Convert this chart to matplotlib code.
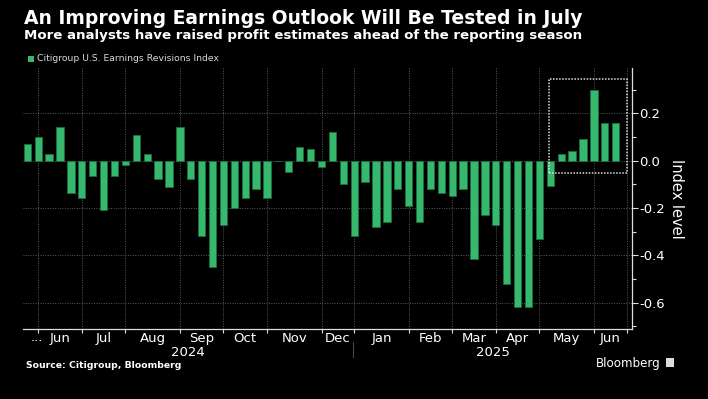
import numpy as np
import matplotlib
matplotlib.use("Agg")
import matplotlib.pyplot as plt
from matplotlib.patches import Rectangle
from matplotlib.transforms import blended_transform_factory

# weekly Citigroup US earnings revisions index, late May 2024 -> Jun 2025
values = [
    0.070, 0.101, 0.030, 0.142, -0.138, -0.159, -0.066, -0.210, -0.066, -0.016,
    0.111, 0.030, -0.078, -0.109, 0.142, -0.078, -0.317, -0.447, -0.271, -0.199,
    -0.159, -0.118, -0.159, -0.003, -0.048, 0.059, 0.051, -0.028, 0.121, -0.099,
    -0.317, -0.089, -0.278, -0.257, -0.118, -0.189, -0.257, -0.118, -0.138, -0.149,
    -0.118, -0.417, -0.228, -0.271, -0.519, -0.617, -0.617, -0.330, -0.107, 0.030,
    0.042, 0.092, 0.300, 0.161, 0.161,
]
# first week of each month (bar index) and month names
month_starts = [1, 5, 9, 14, 18, 22, 27, 30, 35, 39, 43, 47, 52, 55]
month_names = ["Jun", "Jul", "Aug", "Sep", "Oct", "Nov", "Dec",
               "Jan", "Feb", "Mar", "Apr", "May", "Jun"]
years = ["2024", "2025"]
year_break = 29.9

BG = "black"
GREEN = "#37b86f"
W = 708
H = 399

fig = plt.figure(figsize=(7.08, 3.99), dpi=100, facecolor=BG)
ax = fig.add_axes([23 / W, (H - 329.3) / H, (632 - 23) / W, (329.3 - 68) / H], facecolor=BG)

x = np.arange(len(values))
ax.bar(x, values, width=0.67, color=GREEN, edgecolor="#1d6e3f", linewidth=0.6, zorder=3)

ax.set_xlim(-0.4, 55.5)
ax.set_ylim(-0.712, 0.392)

# grid
for m in month_starts:
    ax.axvline(m, color="#5a5a5a", lw=0.7, ls=(0, (1, 1.5)), zorder=1)
for yv in [-0.6, -0.4, -0.2, 0.0, 0.2]:
    ax.axhline(yv, color="#5a5a5a", lw=0.7, ls=(0, (1, 1.5)), zorder=1)

# spines
for s in ["left", "top"]:
    ax.spines[s].set_visible(False)
ax.spines["right"].set_color("#dddddd")
ax.spines["bottom"].set_color("#dddddd")
ax.spines["right"].set_linewidth(0.9)
ax.spines["bottom"].set_linewidth(0.9)

# y axis on the right
ax.yaxis.tick_right()
ax.yaxis.set_label_position("right")
ax.set_yticks([-0.6, -0.4, -0.2, 0.0, 0.2])
ax.set_yticklabels(["-0.6", "-0.4", "-0.2", "0.0", "0.2"])
ax.set_yticks([-0.7, -0.5, -0.3, -0.1, 0.1, 0.3], minor=True)
ax.tick_params(axis="y", which="major", colors="#dddddd", labelcolor="white",
               labelsize=9.5, length=4, width=0.8, pad=1)
ax.tick_params(axis="y", which="minor", colors="#dddddd", length=3, width=0.8)
ax.set_ylabel("Index level", color="white", fontsize=10.5, rotation=270, labelpad=14)

# x axis: ticks at month starts, labels centred between them
ax.set_xticks(month_starts)
ax.set_xticklabels([])
mids = [(month_starts[i] + month_starts[i + 1]) / 2 for i in range(len(month_names))]
ax.set_xticks(mids, minor=True)
ax.set_xticklabels(month_names, minor=True)
ax.tick_params(axis="x", which="major", colors="#dddddd", length=3, width=0.8)
ax.tick_params(axis="x", which="minor", length=0, labelcolor="white", labelsize=9.5, pad=2)

tr = blended_transform_factory(ax.transData, ax.transAxes)
ax.text(0.85, -0.046, "...", transform=tr, color="white", fontsize=9.5, ha="center", va="baseline")
ax.text((-0.4 + year_break) / 2, -0.062, years[0], transform=tr, color="white",
        fontsize=9.5, ha="center", va="top")
ax.text((year_break + 55.5) / 2, -0.062, years[1], transform=tr, color="white",
        fontsize=9.5, ha="center", va="top")
ax.plot([year_break, year_break], [-0.05, -0.105], transform=tr, color="#444444",
        lw=0.8, clip_on=False)

# highlight box around the recent run-up
ax.add_patch(Rectangle((47.9, -0.05), 7.17, 0.395, fill=False, edgecolor="#e0e0e0",
                       lw=1.1, ls=(0, (1, 1)), zorder=4))

# titles
fig.text(24 / W, 1 - 18 / H, "An Improving Earnings Outlook Will Be Tested in July",
         color="white", fontsize=13.5, fontweight="bold", va="center", ha="left")
fig.text(24 / W, 1 - 36 / H, "More analysts have raised profit estimates ahead of the reporting season",
         color="white", fontsize=9.6, fontweight="bold", va="center", ha="left")

# legend
fig.patches.append(Rectangle((27.5 / W, 1 - 62 / H), 6.5 / W, 6.5 / H, transform=fig.transFigure,
                             facecolor=GREEN, edgecolor="none"))
fig.text(37 / W, 1 - 58.5 / H, "Citigroup U.S. Earnings Revisions Index",
         color="#d8d8d8", fontsize=6.7, va="center", ha="left")

# footer
fig.text(26 / W, 1 - 366 / H, "Source: Citigroup, Bloomberg", color="white",
         fontsize=6.7, fontweight="bold", va="center", ha="left")
fig.text(661 / W, 1 - 363 / H, "Bloomberg", color="white", fontsize=8.6,
         va="center", ha="right")
fig.patches.append(Rectangle((666 / W, 1 - 367 / H), 8 / W, 9 / H, transform=fig.transFigure,
                             facecolor="#dddddd", edgecolor="none"))

fig.savefig("out.png", dpi=100, facecolor=BG)
